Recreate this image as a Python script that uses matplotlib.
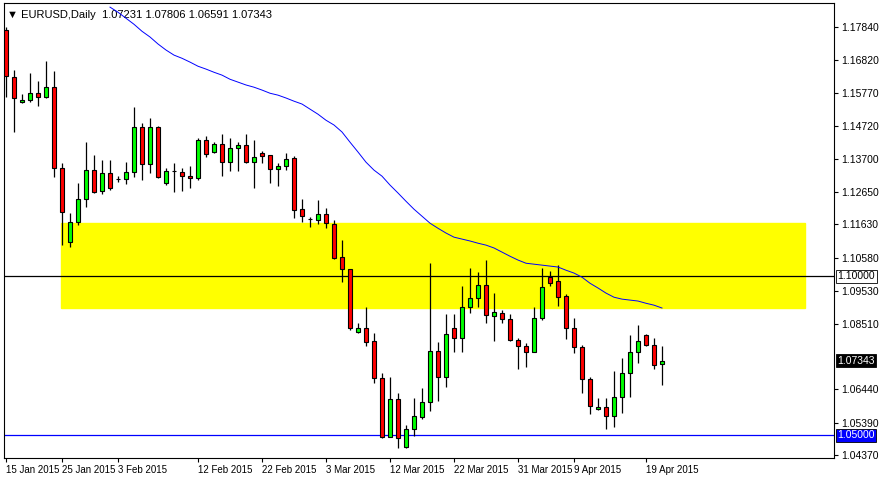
import numpy as np
import matplotlib
matplotlib.use("Agg")
import matplotlib.pyplot as plt

plt.rcParams['font.family'] = ['Liberation Sans', 'DejaVu Sans']

# daily EURUSD candles (open, high, low, close)
opens = [1.1775, 1.1627, 1.1548, 1.1554, 1.1576, 1.1564, 1.1595, 1.1340, 1.1107, 1.1170,
         1.1243, 1.1334, 1.1268, 1.1325, 1.1306, 1.1306, 1.1328, 1.1469, 1.1353, 1.1469,
         1.1293, 1.1331, 1.1328, 1.1315, 1.1309, 1.1428, 1.1391, 1.1416, 1.1359, 1.1403,
         1.1413, 1.1359, 1.1388, 1.1381, 1.1337, 1.1347, 1.1372, 1.1211, 1.1180, 1.1177,
         1.1196, 1.1164, 1.1060, 1.1022, 1.0824, 1.0837, 1.0796, 1.0679, 1.0494, 1.0613,
         1.0462, 1.0519, 1.0557, 1.0604, 1.0764, 1.0683, 1.0837, 1.0805, 1.0903, 1.0931,
         1.0972, 1.0875, 1.0884, 1.0865, 1.0799, 1.0780, 1.0761, 1.0868, 1.0998, 1.0985,
         1.0937, 1.0837, 1.0777, 1.0676, 1.0582, 1.0588, 1.0560, 1.0620, 1.0695, 1.0761,
         1.0815, 1.0783, 1.07231]
highs = [1.1784, 1.1649, 1.1573, 1.1639, 1.1614, 1.1677, 1.1646, 1.1356, 1.1199, 1.1293,
         1.1422, 1.1381, 1.1365, 1.1365, 1.1315, 1.1359, 1.1532, 1.1482, 1.1498, 1.1472,
         1.1340, 1.1356, 1.1340, 1.1347, 1.1435, 1.1441, 1.1422, 1.1447, 1.1435, 1.1422,
         1.1447, 1.1428, 1.1394, 1.1381, 1.1356, 1.1388, 1.1378, 1.1243, 1.1186, 1.1240,
         1.1214, 1.1177, 1.1114, 1.1022, 1.0852, 1.0903, 1.0821, 1.0695, 1.0683, 1.0632,
         1.0532, 1.0617, 1.0648, 1.1041, 1.0793, 1.0881, 1.0881, 1.0969, 1.1026, 1.1013,
         1.1051, 1.0947, 1.0893, 1.0881, 1.0805, 1.0790, 1.0903, 1.1026, 1.1016, 1.1035,
         1.0944, 1.0868, 1.0783, 1.0683, 1.0617, 1.0617, 1.0701, 1.0742, 1.0815, 1.0846,
         1.0818, 1.0805, 1.07806]
lows = [1.1564, 1.1454, 1.1545, 1.1548, 1.1535, 1.1561, 1.1312, 1.1098, 1.1092, 1.1161,
        1.1218, 1.1262, 1.1258, 1.1271, 1.1296, 1.1290, 1.1312, 1.1303, 1.1325, 1.1309,
        1.1287, 1.1265, 1.1268, 1.1277, 1.1303, 1.1375, 1.1388, 1.1315, 1.1331, 1.1331,
        1.1356, 1.1277, 1.1356, 1.1293, 1.1284, 1.1334, 1.1183, 1.1170, 1.1155, 1.1164,
        1.1151, 1.1054, 1.0982, 1.0830, 1.0821, 1.0780, 1.0664, 1.0491, 1.0494, 1.0459,
        1.0459, 1.0497, 1.0550, 1.0576, 1.0607, 1.0651, 1.0761, 1.0761, 1.0884, 1.0903,
        1.0852, 1.0796, 1.0852, 1.0796, 1.0708, 1.0714, 1.0761, 1.0862, 1.0969, 1.0906,
        1.0802, 1.0758, 1.0632, 1.0566, 1.0579, 1.0519, 1.0525, 1.0569, 1.0620, 1.0727,
        1.0780, 1.0708, 1.06591]
closes = [1.1630, 1.1561, 1.1554, 1.1576, 1.1564, 1.1595, 1.1340, 1.1202, 1.1170, 1.1243,
          1.1334, 1.1265, 1.1325, 1.1277, 1.1306, 1.1328, 1.1469, 1.1353, 1.1469, 1.1312,
          1.1331, 1.1331, 1.1315, 1.1309, 1.1428, 1.1384, 1.1416, 1.1359, 1.1403, 1.1413,
          1.1359, 1.1375, 1.1378, 1.1337, 1.1347, 1.1369, 1.1208, 1.1189, 1.1180, 1.1196,
          1.1167, 1.1057, 1.1022, 1.0837, 1.0837, 1.0793, 1.0679, 1.0494, 1.0613, 1.0491,
          1.0519, 1.0560, 1.0604, 1.0764, 1.0683, 1.0817, 1.0805, 1.0903, 1.0931, 1.0972,
          1.0878, 1.0887, 1.0865, 1.0799, 1.0780, 1.0761, 1.0868, 1.0966, 1.0978, 1.0934,
          1.0837, 1.0777, 1.0676, 1.0591, 1.0588, 1.0560, 1.0620, 1.0695, 1.0761, 1.0796,
          1.0783, 1.0720, 1.07343]

# moving average, visible from candle 13 onward
ma_start = 13
ma = [1.1847, 1.1831, 1.1812, 1.1793, 1.1771, 1.1753, 1.1731, 1.1712, 1.1696, 1.1686,
      1.1674, 1.1661, 1.1652, 1.1642, 1.1633, 1.1620, 1.1611, 1.1602, 1.1595, 1.1586,
      1.1576, 1.1570, 1.1561, 1.1551, 1.1542, 1.1526, 1.1510, 1.1491, 1.1476, 1.1454,
      1.1422, 1.1391, 1.1359, 1.1334, 1.1315, 1.1287, 1.1262, 1.1236, 1.1211, 1.1189,
      1.1167, 1.1151, 1.1136, 1.1123, 1.1117, 1.1111, 1.1104, 1.1098, 1.1089, 1.1076,
      1.1063, 1.1051, 1.1041, 1.1038, 1.1035, 1.1032, 1.1029, 1.1019, 1.1010, 1.0997,
      1.0978, 1.0963, 1.0947, 1.0934, 1.0928, 1.0925, 1.0922, 1.0915, 1.0909, 1.0900]

zone_top, zone_bottom = 1.1167, 1.0900
level_black, level_blue = 1.1000, 1.0500

date_pos = [0, 7, 14, 24, 32, 40, 48, 56, 64, 71, 80]
date_labels = ["15 Jan 2015", "25 Jan 2015", "3 Feb 2015", "12 Feb 2015", "22 Feb 2015",
               "3 Mar 2015", "12 Mar 2015", "22 Mar 2015", "31 Mar 2015", "9 Apr 2015",
               "19 Apr 2015"]
price_ticks = [1.17840, 1.16820, 1.15770, 1.14720, 1.13700, 1.12650, 1.11630, 1.10580,
               1.09530, 1.08510, 1.06440, 1.05390, 1.04370]

fs = 7.5
fig = plt.figure(figsize=(8.86, 4.79), dpi=100)
ax = fig.add_axes([4 / 886, 21 / 479, 830 / 886, 455 / 479])

ax.axhspan(zone_bottom, zone_top, xmin=(6.875 + 0.25) / 103.75, xmax=(99.875 + 0.25) / 103.75,
           color="#ffff00", zorder=0)
ax.axhline(level_black, color="black", lw=0.9, zorder=1)
ax.axhline(level_blue, color="#0000ff", lw=0.9, zorder=1)

x = np.arange(len(opens))
o, h, l, c = map(np.array, (opens, highs, lows, closes))
up = c >= o
ax.vlines(x, l, h, color="black", lw=0.9, zorder=2)
ax.bar(x, np.maximum(np.abs(c - o), 0.00008), bottom=np.minimum(o, c), width=0.62,
       color=np.where(up, "#00ff00", "#ff0000"), edgecolor="black", linewidth=0.8, zorder=3)

ax.plot(np.arange(ma_start, ma_start + len(ma)), ma, color="#0000ff", lw=0.7, zorder=4)

ax.set_xlim(-0.25, 103.5)
ax.set_ylim(1.0428, 1.1860)
ax.yaxis.tick_right()
ax.set_yticks(price_ticks)
ax.set_yticklabels([f"{v:.5f}" for v in price_ticks], fontsize=fs)
ax.set_xticks(date_pos)
ax.set_xticklabels(date_labels, fontsize=7, ha="left")
ax.tick_params(length=3, width=0.8, pad=2)
for s in ax.spines.values():
    s.set_linewidth(0.8)

# price boxes on the right scale
for v, fc, tc in [(level_black, "white", "black"), (level_blue, "#0000ff", "white"),
                  (closes[-1], "black", "white")]:
    ax.text(1.004, v, f"{v:.5f}", transform=ax.get_yaxis_transform(), fontsize=fs,
            va="center", ha="left", color=tc,
            bbox=dict(boxstyle="square,pad=0.15", fc=fc, ec="black", lw=0.6))

ax.text(0.004, 0.985, "\u25bc EURUSD,Daily  1.07231 1.07806 1.06591 1.07343",
        transform=ax.transAxes, fontsize=8, va="top", ha="left")

fig.savefig("out.png", dpi=100)
